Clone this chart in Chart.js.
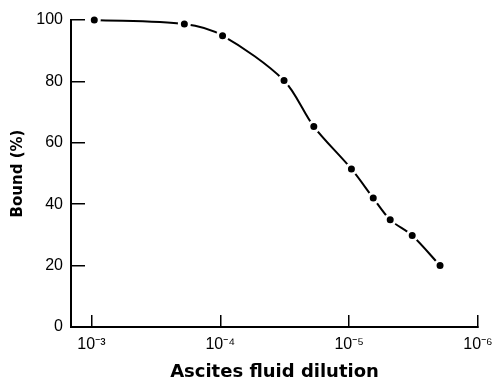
<!DOCTYPE html>
<html>
<head>
<meta charset="utf-8">
<script src="https://cdn.jsdelivr.net/npm/chart.js@4/dist/chart.umd.min.js"></script>
<style>
html,body{margin:0;padding:0;background:#fff;}
#wrap{width:499px;height:381px;}
</style>
</head>
<body>
<div id="wrap"><canvas id="c" width="499" height="381"></canvas></div>
<script>
// Data
const dilution = [9.5e-4, 1.9e-4, 9.6e-5, 3.2e-5, 1.88e-5, 9.6e-6, 6.5e-6, 4.8e-6, 3.24e-6, 1.97e-6];
const bound    = [100, 98.7, 94.9, 80.3, 65.3, 51.5, 42, 34.9, 29.8, 20];
const xTickValues = [1e-3, 1e-4, 1e-5, 1e-6];
const xTickLabels = ['10\u207B\u00B3', '10\u207B\u2074', '10\u207B\u2075', '10\u207B\u2076'];
const yTickValues = [0, 20, 40, 60, 80, 100];

const points = dilution.map((d, i) => ({x: d, y: bound[i]}));

new Chart(document.getElementById('c'), {
  type: 'line',
  data: {
    datasets: [{
      data: points,
      borderColor: '#000',
      borderWidth: 2,
      tension: 0.3,
      pointRadius: 5,
      pointBorderWidth: 3,
      pointBackgroundColor: '#000',
      pointBorderColor: '#fff',
      clip: false
    }]
  },
  options: {
    responsive: false,
    animation: false,
    devicePixelRatio: 1,
    layout: {padding: {top: 20, right: 21, bottom: 0, left: 0}},
    plugins: {legend: {display: false}, tooltip: {enabled: false}},
    scales: {
      x: {
        type: 'logarithmic',
        reverse: true,
        min: 1e-6,
        max: 1.44e-3,
        afterBuildTicks: s => { s.ticks = xTickValues.map(v => ({value: v})); },
        afterFit: s => { s.height = 54; s.paddingLeft = 0; s.paddingRight = 0; },
        ticks: {
          autoSkip: false,
          maxRotation: 0,
          padding: 20,
          color: '#000',
          font: {family: 'Liberation Sans', size: 16},
          callback: (v) => { const i = xTickValues.findIndex(t => Math.abs(Math.log10(t) - Math.log10(v)) < 1e-6); return i >= 0 ? xTickLabels[i] : ''; }
        },
        grid: {drawOnChartArea: false, drawTicks: true, tickLength: -12, color: '#000', lineWidth: 1.5},
        border: {display: true, color: '#000', width: 2},
        title: {
          display: true,
          text: 'Ascites fluid dilution',
          color: '#000',
          font: {family: 'DejaVu Sans', size: 18, weight: 'bold', lineHeight: 1.0},
          padding: 0
        }
      },
      y: {
        min: 0,
        max: 100,
        afterBuildTicks: s => { s.ticks = yTickValues.map(v => ({value: v})); },
        afterFit: s => { s.width = 71; s.paddingTop = 0; s.paddingBottom = 0; },
        ticks: {
          padding: 22,
          color: '#000',
          font: {family: 'Liberation Sans', size: 16}
        },
        grid: {drawOnChartArea: false, drawTicks: true, tickLength: -14, color: '#000', lineWidth: 1.5},
        border: {display: true, color: '#000', width: 2},
        title: {
          display: true,
          text: 'Bound (%)',
          color: '#000',
          font: {family: 'DejaVu Sans', size: 15, weight: 'bold'},
          padding: {top: 9, bottom: 0}
        }
      }
    }
  }
});
</script>
</body>
</html>
